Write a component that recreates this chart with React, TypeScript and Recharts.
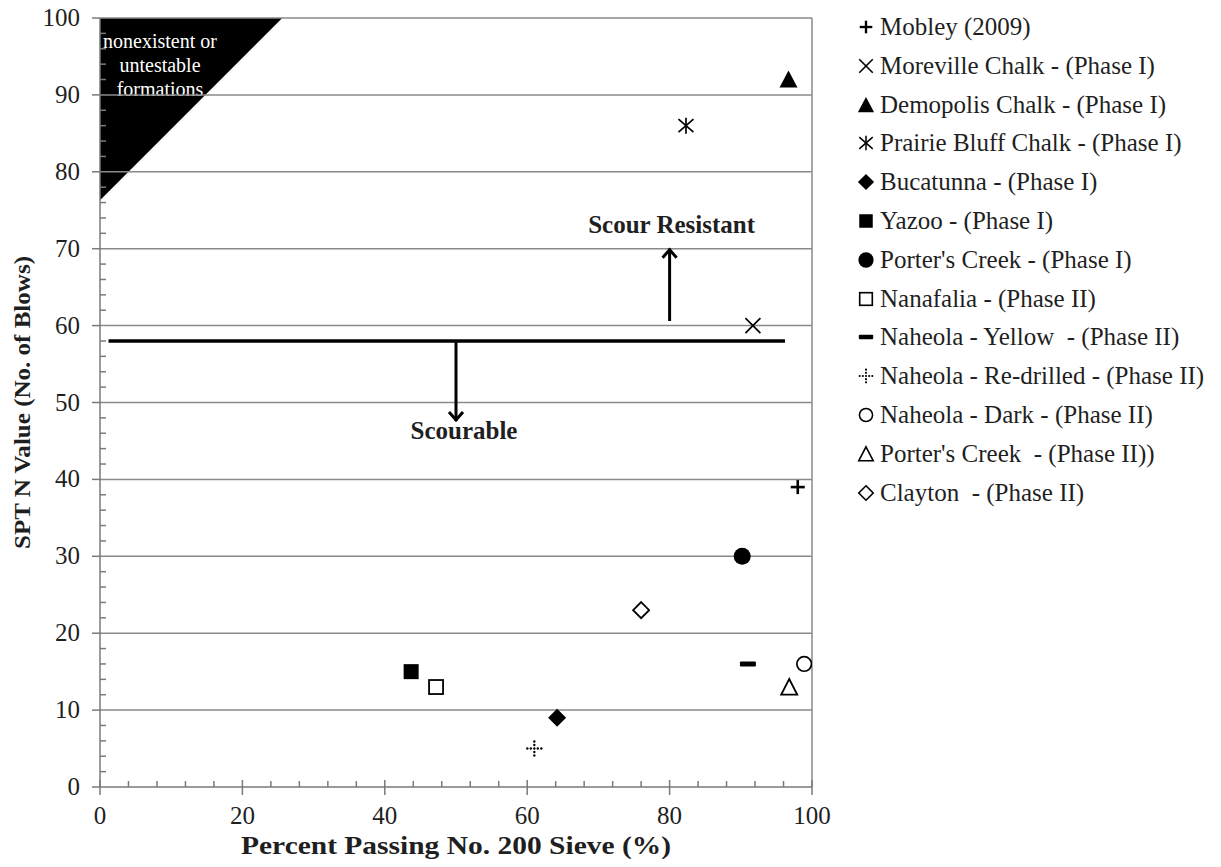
import React from "react";
import {
  ScatterChart,
  Scatter,
  XAxis,
  YAxis,
  ReferenceLine,
  ReferenceArea,
  Label,
} from "recharts";

// series (one point each)
const seriesNames = [
  "Mobley (2009)",
  "Moreville Chalk - (Phase I)",
  "Demopolis Chalk - (Phase I)",
  "Prairie Bluff Chalk - (Phase I)",
  "Bucatunna - (Phase I)",
  "Yazoo - (Phase I)",
  "Porter's Creek - (Phase I)",
  "Nanafalia - (Phase II)",
  "Naheola - Yellow  - (Phase II)",
  "Naheola - Re-drilled - (Phase II)",
  "Naheola - Dark - (Phase II)",
  "Porter's Creek  - (Phase II))",
  "Clayton  - (Phase II)",
];
const percentPassing = [98, 91.7, 96.7, 82.3, 64.2, 43.7, 90.2, 47.2, 91, 61, 98.9, 96.8, 76];
const sptN = [39, 60, 92, 86, 9, 15, 30, 13, 16, 5, 16, 13, 23];

const markerKinds = [
  "plus",
  "cross",
  "triangle",
  "asterisk",
  "diamond",
  "square",
  "circle",
  "squareOpen",
  "dash",
  "dottedPlus",
  "circleOpen",
  "triangleOpen",
  "diamondOpen",
];

// axis ticks
const xTicks = [0, 20, 40, 60, 80, 100];
const xMinorTicks = [4, 8, 12, 16, 24, 28, 32, 36, 44, 48, 52, 56, 64, 68, 72, 76, 84, 88, 92, 96];
const yTicks = [0, 10, 20, 30, 40, 50, 60, 70, 80, 90, 100];
const yMinorTicks = [
  2, 4, 6, 8, 12, 14, 16, 18, 22, 24, 26, 28, 32, 34, 36, 38, 42, 44, 46, 48,
  52, 54, 56, 58, 62, 64, 66, 68, 72, 74, 76, 78, 82, 84, 86, 88, 92, 94, 96, 98,
];

// annotations
const thresholdN = 58;
const thresholdRange = [1.2, 96.2];
const upArrow = { x: 80, from: 60.6, to: 70, text: "Scour Resistant" };
const downArrow = { x: 50, from: 58, to: 47.6, text: "Scourable" };
const untestableX = [0, 25.6];
const untestableY = [76.3, 100];
const untestableText = ["nonexistent or", "untestable", "formations"];

const FONT = "'Liberation Serif', 'Times New Roman', serif";
const AXIS = "#7a7a7a";
const GRID = "#8a8a8a";
const TEXT = "#1f1f1f";

function Marker({ kind, cx, cy, s = 1 }: { kind: string; cx: number; cy: number; s?: number }) {
  const k = "#000";
  const d = (v: number) => v * s;
  switch (kind) {
    case "plus":
      return (
        <g stroke={k} strokeWidth={2.6 * s}>
          <line x1={cx - d(7)} y1={cy} x2={cx + d(7)} y2={cy} />
          <line x1={cx} y1={cy - d(7)} x2={cx} y2={cy + d(7)} />
        </g>
      );
    case "cross":
      return (
        <g stroke={k} strokeWidth={1.7 * s}>
          <line x1={cx - d(7.5)} y1={cy - d(7.5)} x2={cx + d(7.5)} y2={cy + d(7.5)} />
          <line x1={cx - d(7.5)} y1={cy + d(7.5)} x2={cx + d(7.5)} y2={cy - d(7.5)} />
        </g>
      );
    case "asterisk":
      return (
        <g stroke={k} strokeWidth={1.7 * s}>
          <line x1={cx - d(7.5)} y1={cy - d(6.5)} x2={cx + d(7.5)} y2={cy + d(6.5)} />
          <line x1={cx - d(7.5)} y1={cy + d(6.5)} x2={cx + d(7.5)} y2={cy - d(6.5)} />
          <line x1={cx} y1={cy - d(8)} x2={cx} y2={cy + d(8)} />
        </g>
      );
    case "triangle":
      return (
        <polygon
          points={`${cx},${cy - d(9)} ${cx + d(9)},${cy + d(8)} ${cx - d(9)},${cy + d(8)}`}
          fill={k}
        />
      );
    case "triangleOpen":
      return (
        <polygon
          points={`${cx},${cy - d(8)} ${cx + d(8)},${cy + d(7.5)} ${cx - d(8)},${cy + d(7.5)}`}
          fill="#fff"
          stroke={k}
          strokeWidth={1.8 * s}
        />
      );
    case "diamond":
      return (
        <polygon
          points={`${cx},${cy - d(9)} ${cx + d(9)},${cy} ${cx},${cy + d(9)} ${cx - d(9)},${cy}`}
          fill={k}
        />
      );
    case "diamondOpen":
      return (
        <polygon
          points={`${cx},${cy - d(8)} ${cx + d(8)},${cy} ${cx},${cy + d(8)} ${cx - d(8)},${cy}`}
          fill="#fff"
          stroke={k}
          strokeWidth={1.8 * s}
        />
      );
    case "square":
      return <rect x={cx - d(7.5)} y={cy - d(7.5)} width={d(15)} height={d(15)} fill={k} />;
    case "squareOpen":
      return (
        <rect
          x={cx - d(7)}
          y={cy - d(7)}
          width={d(14)}
          height={d(14)}
          fill="#fff"
          stroke={k}
          strokeWidth={1.8 * s}
        />
      );
    case "circle":
      return <circle cx={cx} cy={cy} r={d(8.5)} fill={k} />;
    case "circleOpen":
      return <circle cx={cx} cy={cy} r={d(7.3)} fill="#fff" stroke={k} strokeWidth={1.7 * s} />;
    case "dash":
      return <rect x={cx - d(8)} y={cy - d(2.5)} width={d(16)} height={d(5)} rx={1} fill={k} />;
    case "dottedPlus": {
      const offs = [-7, -3.5, 3.5, 7];
      return (
        <g fill={k}>
          <circle cx={cx} cy={cy} r={1.2 * s} />
          {offs.map((o) => (
            <circle key={"h" + o} cx={cx + d(o)} cy={cy} r={1.2 * s} />
          ))}
          {offs.map((o) => (
            <circle key={"v" + o} cx={cx} cy={cy + d(o)} r={1.2 * s} />
          ))}
        </g>
      );
    }
    default:
      return null;
  }
}

const XTick = (props: any) => {
  const { x, y, payload } = props;
  if (xTicks.includes(payload.value)) {
    return (
      <g>
        <line x1={x} y1={y - 7} x2={x} y2={y + 8} stroke={AXIS} strokeWidth={1.5} />
        <text x={x} y={y + 37} textAnchor="middle" fontFamily={FONT} fontSize={25} fill={TEXT}>
          {payload.value}
        </text>
      </g>
    );
  }
  return <line x1={x} y1={y - 6} x2={x} y2={y} stroke={AXIS} strokeWidth={1.5} />;
};

const YTick = (props: any) => {
  const { x, y, payload } = props;
  if (yTicks.includes(payload.value)) {
    return (
      <g>
        <line x1={x - 8} y1={y} x2={x} y2={y} stroke={AXIS} strokeWidth={1.5} />
        <text x={x - 20} y={y + 8} textAnchor="end" fontFamily={FONT} fontSize={25} fill={TEXT}>
          {payload.value}
        </text>
      </g>
    );
  }
  return <line x1={x} y1={y} x2={x + 6} y2={y} stroke={AXIS} strokeWidth={1.5} />;
};

const XTitle = (props: any) => {
  const vb = props.viewBox;
  return (
    <text
      x={vb.x + vb.width / 2}
      y={vb.y + 67}
      textAnchor="middle"
      fontFamily={FONT}
      fontWeight="bold"
      fontSize={25}
      fill={TEXT}
      textLength={430}
      lengthAdjust="spacingAndGlyphs"
    >
      Percent Passing No. 200 Sieve (%)
    </text>
  );
};

const YTitle = (props: any) => {
  const vb = props.viewBox;
  const cx = vb.x + 22;
  const cy = vb.y + vb.height / 2;
  return (
    <text
      x={cx}
      y={cy}
      transform={`rotate(-90 ${cx} ${cy})`}
      textAnchor="middle"
      fontFamily={FONT}
      fontWeight="bold"
      fontSize={24}
      fill={TEXT}
      textLength={293}
      lengthAdjust="spacingAndGlyphs"
    >
      SPT N Value (No. of Blows)
    </text>
  );
};

const UntestableShape = (props: any) => {
  const { x, y, width, height } = props;
  return (
    <g>
      <polygon points={`${x},${y} ${x + width},${y} ${x},${y + height}`} fill="#000" />
      {untestableText.map((t, i) => (
        <text
          key={t}
          x={x + 60}
          y={y + 30 + i * 24}
          textAnchor="middle"
          fontFamily={FONT}
          fontSize={20}
          fill="#fff"
        >
          {t}
        </text>
      ))}
    </g>
  );
};

const makeArrow = (label: string, up: boolean) => (props: any) => {
  const { x1, y1, x2, y2 } = props;
  const h = up ? 9 : -9;
  return (
    <g>
      <line x1={x1} y1={y1} x2={x2} y2={y2} stroke="#000" strokeWidth={3} />
      <polyline
        points={`${x2 - 7},${y2 + h} ${x2},${y2 + (up ? 1 : -1)} ${x2 + 7},${y2 + h}`}
        fill="none"
        stroke="#000"
        strokeWidth={3}
      />
      <text
        x={up ? x2 + 2 : x2 + 8}
        y={up ? y2 - 16 : y2 + 18}
        textAnchor="middle"
        fontFamily={FONT}
        fontWeight="bold"
        fontSize={25}
        fill={TEXT}
      >
        {label}
      </text>
    </g>
  );
};

const makeShape = (kind: string) => (props: any) =>
  <Marker kind={kind} cx={props.cx} cy={props.cy} />;

export default function App() {
  const series = seriesNames.map((name, i) => ({
    name,
    kind: markerKinds[i],
    data: [{ x: percentPassing[i], y: sptN[i] }],
  }));

  // shift up by the body margin so the top tick label has room
  return (
    <div
      style={{ position: "relative", width: 1205, height: 859, marginTop: -8, background: "#fff" }}
    >
      <ScatterChart
        width={1205}
        height={859}
        margin={{ top: 18, right: 401, bottom: 0, left: 0 }}
        style={{ overflow: "visible" }}
      >
        <XAxis
          type="number"
          dataKey="x"
          domain={[0, 100]}
          ticks={[...xTicks, ...xMinorTicks].sort((a, b) => a - b)}
          interval={0}
          height={72}
          tickSize={0}
          tickMargin={0}
          tickLine={false}
          tick={<XTick />}
          axisLine={{ stroke: AXIS, strokeWidth: 1.5 }}
          allowDataOverflow
          label={<Label content={<XTitle />} />}
        />
        <YAxis
          type="number"
          dataKey="y"
          domain={[0, 100]}
          ticks={[...yTicks, ...yMinorTicks].sort((a, b) => a - b)}
          interval={0}
          width={92}
          tickSize={0}
          tickMargin={0}
          tickLine={false}
          tick={<YTick />}
          axisLine={{ stroke: AXIS, strokeWidth: 1.5 }}
          allowDataOverflow
          label={<Label content={<YTitle />} />}
        />
        {yTicks
          .filter((v) => v > 0)
          .map((v) => (
            <ReferenceLine key={v} y={v} stroke={GRID} strokeWidth={1.5} />
          ))}
        <ReferenceLine x={100} stroke={GRID} strokeWidth={1.5} />
        <ReferenceArea
          x1={untestableX[0]}
          x2={untestableX[1]}
          y1={untestableY[0]}
          y2={untestableY[1]}
          shape={UntestableShape}
        />
        <ReferenceLine
          segment={[
            { x: thresholdRange[0], y: thresholdN },
            { x: thresholdRange[1], y: thresholdN },
          ]}
          stroke="#000"
          strokeWidth={3.5}
        />
        <ReferenceLine
          segment={[
            { x: upArrow.x, y: upArrow.from },
            { x: upArrow.x, y: upArrow.to },
          ]}
          shape={makeArrow(upArrow.text, true)}
        />
        <ReferenceLine
          segment={[
            { x: downArrow.x, y: downArrow.from },
            { x: downArrow.x, y: downArrow.to },
          ]}
          shape={makeArrow(downArrow.text, false)}
        />
        {series.map((s) => (
          <Scatter
            key={s.name}
            name={s.name}
            data={s.data}
            shape={makeShape(s.kind)}
            isAnimationActive={false}
          />
        ))}
      </ScatterChart>

      <div style={{ position: "absolute", left: 846, top: 0 }}>
        {series.map((s, i) => (
          <div
            key={s.name}
            style={{
              position: "absolute",
              top: 12 + i * 38.8,
              left: 0,
              height: 30,
              display: "flex",
              alignItems: "center",
              whiteSpace: "pre",
              fontFamily: FONT,
              fontSize: 25,
              color: TEXT,
            }}
          >
            <svg width={24} height={24} style={{ flex: "none" }}>
              <Marker kind={s.kind} cx={12} cy={12} s={0.9} />
            </svg>
            <span style={{ marginLeft: 2 }}>{s.name}</span>
          </div>
        ))}
      </div>
    </div>
  );
}
